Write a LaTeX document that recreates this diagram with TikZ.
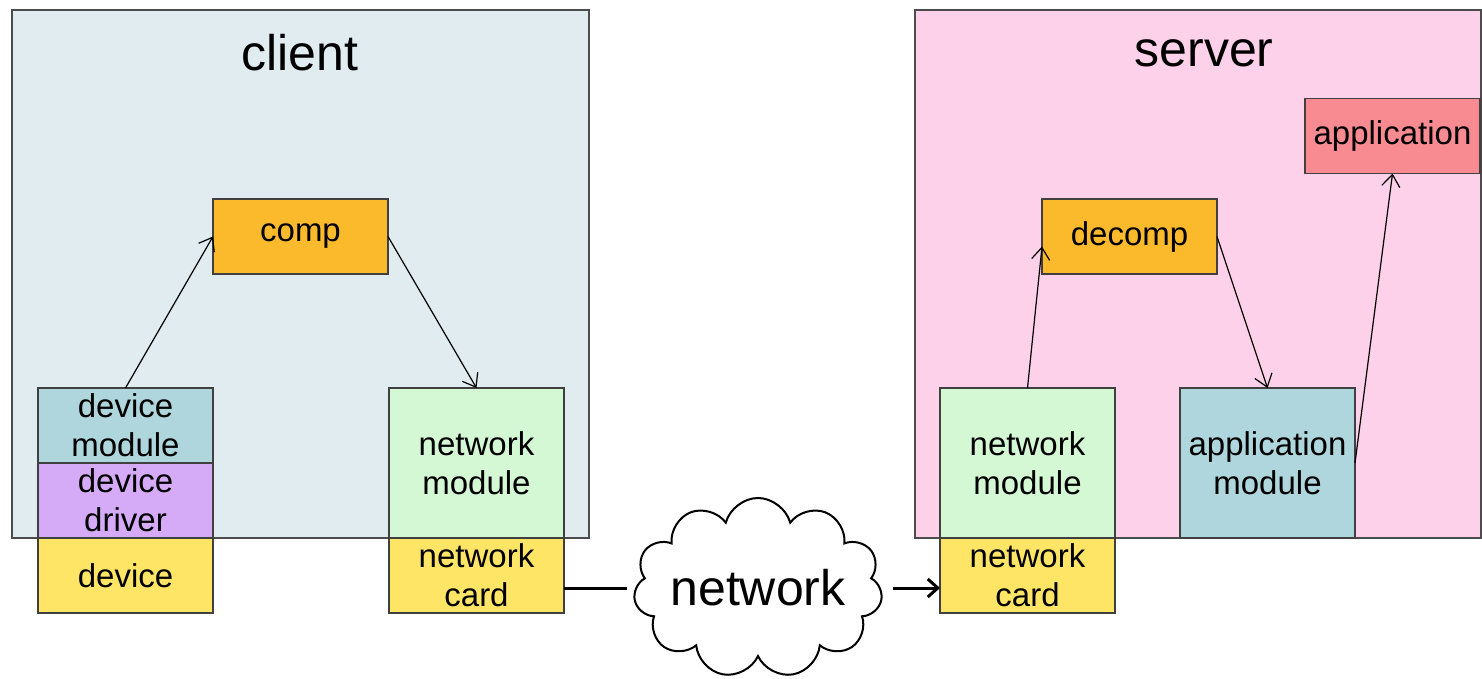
\documentclass[tikz,border=0pt]{standalone}
\usepackage{fontspec}
\setmainfont{Liberation Sans}
\usetikzlibrary{shapes.symbols,positioning,arrows.meta}
\definecolor{clientbg}{HTML}{E0ECF0}
\definecolor{serverbg}{HTML}{FDD1E9}
\definecolor{compc}{HTML}{FBBA2B}
\definecolor{modc}{HTML}{AED6DC}
\definecolor{drvc}{HTML}{D5AAF7}
\definecolor{cardc}{HTML}{FFE566}
\definecolor{netc}{HTML}{D4F8D4}
\definecolor{appc}{HTML}{F88A92}

\begin{document}
\begin{tikzpicture}[x=.5pt, y=-.5pt,
    host/.style={draw=black!70, line width=.6pt},
    blk/.style={draw=black!75, line width=.6pt, inner sep=0pt, outer sep=0pt,
      minimum width=87.5pt, minimum height=37.5pt, align=center,
      font=\fontsize{16.5}{19.5}\selectfont},
    tall/.style={blk, minimum height=75pt},
    title/.style={font=\fontsize{25}{30}\selectfont},
    flow/.style={-{Straight Barb[length=6pt,width=9pt]}, line width=.6pt},
    wire/.style={line width=1.5pt}]
    \useasboundingbox (0,0) rectangle (1482,679);
    % the two hosts
    \draw[host, fill=clientbg] (12,10) rectangle (589,538);
    \draw[host, fill=serverbg] (915,10) rectangle (1481,538);
    \node[title] (clienttitle) at (300,53) {client};
    \node[title] (servertitle) at (1204,53) {server};
    % client side
    \node[blk, fill=compc] (comp) at (300.5,236.5) {comp};
    \node[blk, fill=modc, anchor=north west] (devmod) at (38,388) {device\\module};
    \node[blk, fill=drvc, below=0pt of devmod] (devdrv) {device\\driver};
    \node[blk, fill=cardc, below=0pt of devdrv] (dev) {device};
    \node[tall, fill=netc, anchor=north west] (cnetmod) at (389,388) {network\\module};
    \node[blk, fill=cardc, below=0pt of cnetmod] (cnetcard) {network\\card};
    % server side
    \node[blk, fill=compc] (decomp) at (1129.5,236.5) {decomp};
    \node[blk, fill=appc] (app) at (1392.5,136) {application};
    \node[tall, fill=netc, anchor=north west] (snetmod) at (940,388) {network\\module};
    \node[blk, fill=cardc, below=0pt of snetmod] (snetcard) {network\\card};
    \node[tall, fill=modc, anchor=north west] (appmod) at (1180,388) {application\\module};
    % network cloud
    \node[cloud, draw, line width=1pt, fill=white, cloud puffs=11, cloud ignores aspect,
      minimum width=122pt, minimum height=90pt, inner sep=0pt,
      font=\fontsize{25}{28}\selectfont] (net) at (758,588) {network};
    % data path
    \draw[flow] (devmod.north) -- (comp.west);
    \draw[flow] (comp.east) -- (cnetmod.north);
    \draw[wire, shorten >=4pt] (cnetcard.east |- net.west) -- (net.west);
    \draw[wire, -{Straight Barb[length=5pt,width=9pt]}, shorten <=6pt] (net.east) -- (snetcard.west |- net.east);
    \draw[flow] (snetmod.north) -- ([yshift=-5pt]decomp.west);
    \draw[flow] (decomp.east) -- (appmod.north);
    \draw[flow] (appmod.east) -- (app.south);
\end{tikzpicture}
\end{document}
